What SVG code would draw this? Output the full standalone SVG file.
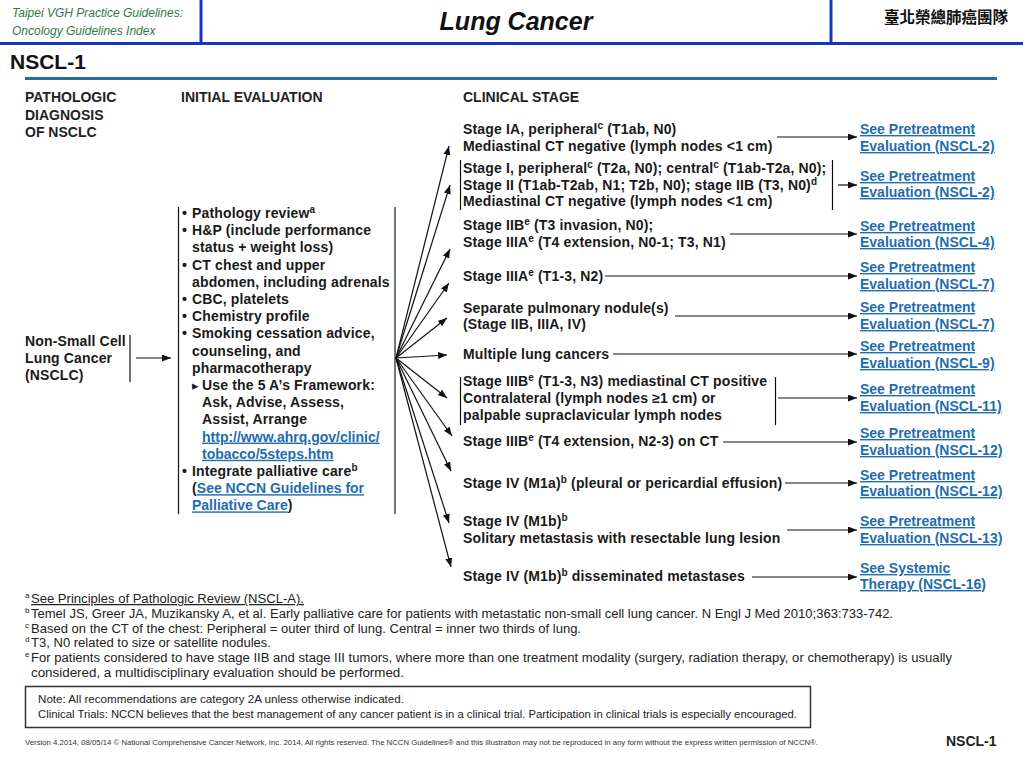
<svg xmlns="http://www.w3.org/2000/svg" width="1023" height="767" viewBox="0 0 1023 767">
<style>
text{font-family:"Liberation Sans",Arial,sans-serif;fill:#1a1a1a}
.b{font-weight:bold;font-size:14px;letter-spacing:0.15px}
.h{font-weight:bold;font-size:14px;fill:#222}
.sup{font-size:10px}
.lk{fill:#1f6cb0;text-decoration:underline;letter-spacing:0}
.fn{font-size:12.5px;fill:#222}
.fs{font-size:8px;fill:#222}
.ln{stroke:#111;stroke-width:1.2;fill:none}
.arr{stroke:#111;stroke-width:1.2;fill:none;marker-end:url(#ah)}
.hb{stroke:#1434c8;stroke-width:3}
</style>
<defs>
<marker id="ah" markerUnits="userSpaceOnUse" markerWidth="9" markerHeight="7" refX="9" refY="3.5" orient="auto">
<path d="M0,0 L9,3.5 L0,7 z" fill="#111"/>
</marker>
</defs>
<rect width="1023" height="767" fill="#fff"/>

<g id="header">
<line class="hb" x1="201" y1="0" x2="201" y2="43"/>
<line class="hb" x1="831" y1="0" x2="831" y2="43"/>
<line class="hb" x1="0" y1="43.5" x2="1023" y2="43.5"/>
<text x="12" y="17" font-style="italic" font-size="12" style="fill:#2f7a46">Taipei VGH Practice Guidelines:</text>
<text x="12" y="35" font-style="italic" font-size="12" style="fill:#2f7a46">Oncology Guidelines Index</text>
<text x="516" y="30" text-anchor="middle" font-weight="bold" font-style="italic" font-size="25" style="fill:#111">Lung Cancer</text>
<text x="946" y="23" text-anchor="middle" font-weight="bold" font-size="15.5" style="font-family:'Noto Sans CJK TC','Noto Sans CJK SC',sans-serif;fill:#111">臺北榮總肺癌團隊</text>
<text x="10" y="69" font-weight="bold" font-size="21" style="fill:#111">NSCL-1</text>
<line x1="25" y1="78.5" x2="997" y2="78.5" stroke="#2b6a99" stroke-width="3"/>
</g>

<g id="column-headers">
<text class="h" x="25" y="102">PATHOLOGIC</text>
<text class="h" x="25" y="120">DIAGNOSIS</text>
<text class="h" x="25" y="137">OF NSCLC</text>
<text class="h" x="181" y="102">INITIAL EVALUATION</text>
<text class="h" x="463" y="102">CLINICAL STAGE</text>
</g>

<g id="node-nsclc">
<text class="b" x="25" y="346">Non-Small Cell</text>
<text class="b" x="25" y="363">Lung Cancer</text>
<text class="b" x="25" y="380">(NSCLC)</text>
<line class="ln" x1="130" y1="335" x2="130" y2="382"/>
</g>

<g id="node-initial-evaluation">
<line class="ln" x1="178.5" y1="207" x2="178.5" y2="514"/>
<line x1="395" y1="207" x2="395" y2="514" stroke="#777" stroke-width="2"/>
<text class="b" x="182" y="218">•</text><text class="b" x="192" y="218">Pathology review<tspan class="sup" dy="-5">a</tspan></text>
<text class="b" x="182" y="235.2">•</text><text class="b" x="192" y="235.2">H&amp;P (include performance</text>
<text class="b" x="192" y="252.4">status + weight loss)</text>
<text class="b" x="182" y="269.6">•</text><text class="b" x="192" y="269.6">CT chest and upper</text>
<text class="b" x="192" y="286.8">abdomen, including adrenals</text>
<text class="b" x="182" y="304">•</text><text class="b" x="192" y="304">CBC, platelets</text>
<text class="b" x="182" y="321.2">•</text><text class="b" x="192" y="321.2">Chemistry profile</text>
<text class="b" x="182" y="338.4">•</text><text class="b" x="192" y="338.4">Smoking cessation advice,</text>
<text class="b" x="192" y="355.6">counseling, and</text>
<text class="b" x="192" y="372.8">pharmacotherapy</text>
<text x="192" y="389.5" font-size="13" style="font-family:'DejaVu Sans',sans-serif">▸</text><text class="b" x="202" y="390">Use the 5 A’s Framework:</text>
<text class="b" x="202" y="407.2">Ask, Advise, Assess,</text>
<text class="b" x="202" y="424.4">Assist, Arrange</text>
<text class="b lk" x="202" y="441.6">http://www.ahrq.gov/clinic/</text>
<text class="b lk" x="202" y="458.8">tobacco/5steps.htm </text>
<text class="b" x="182" y="476">•</text><text class="b" x="192" y="476">Integrate palliative care<tspan class="sup" dy="-5">b</tspan></text>
<text class="b" x="192" y="493.2">(<tspan class="lk">See NCCN Guidelines for</tspan></text>
<text class="b" x="192" y="510.4"><tspan class="lk">Palliative Care</tspan>)</text>
</g>

<g id="node-stage-1">
<text class="b" x="463" y="134">Stage IA, peripheral<tspan class="sup" dy="-5">c</tspan><tspan dy="5"> (T1ab, N0)</tspan></text>
<text class="b" x="463" y="151">Mediastinal CT negative (lymph nodes &lt;1 cm)</text>
</g>
<g id="node-stage-2">
<line class="ln" x1="460.5" y1="160" x2="460.5" y2="210"/>
<line class="ln" x1="832.5" y1="160" x2="832.5" y2="210"/>
<text class="b" x="463" y="173">Stage I, peripheral<tspan class="sup" dy="-5">c</tspan><tspan dy="5"> (T2a, N0); central</tspan><tspan class="sup" dy="-5">c</tspan><tspan dy="5"> (T1ab-T2a, N0);</tspan></text>
<text class="b" x="463" y="190">Stage II (T1ab-T2ab, N1; T2b, N0); stage IIB (T3, N0)<tspan class="sup" dy="-5">d</tspan></text>
<text class="b" x="463" y="206">Mediastinal CT negative (lymph nodes &lt;1 cm)</text>
</g>
<g id="node-stage-3">
<text class="b" x="463" y="230">Stage IIB<tspan class="sup" dy="-5">e</tspan><tspan dy="5"> (T3 invasion, N0);</tspan></text>
<text class="b" x="463" y="247">Stage IIIA<tspan class="sup" dy="-5">e</tspan><tspan dy="5"> (T4 extension, N0-1; T3, N1)</tspan></text>
</g>
<g id="node-stage-4">
<text class="b" x="463" y="281">Stage IIIA<tspan class="sup" dy="-5">e</tspan><tspan dy="5"> (T1-3, N2)</tspan></text>
</g>
<g id="node-stage-5">
<text class="b" x="463" y="313">Separate pulmonary nodule(s)</text>
<text class="b" x="463" y="329">(Stage IIB, IIIA, IV)</text>
</g>
<g id="node-stage-6">
<text class="b" x="463" y="359">Multiple lung cancers</text>
</g>
<g id="node-stage-7">
<line class="ln" x1="460.5" y1="377" x2="460.5" y2="425"/>
<line class="ln" x1="775.5" y1="377" x2="775.5" y2="425"/>
<text class="b" x="463" y="386">Stage IIIB<tspan class="sup" dy="-5">e</tspan><tspan dy="5"> (T1-3, N3) mediastinal CT positive</tspan></text>
<text class="b" x="463" y="403">Contralateral (lymph nodes ≥1 cm) or</text>
<text class="b" x="463" y="420">palpable supraclavicular lymph nodes</text>
</g>
<g id="node-stage-8">
<text class="b" x="463" y="446">Stage IIIB<tspan class="sup" dy="-5">e</tspan><tspan dy="5"> (T4 extension, N2-3) on CT</tspan></text>
</g>
<g id="node-stage-9">
<text class="b" x="463" y="488">Stage IV (M1a)<tspan class="sup" dy="-5">b</tspan><tspan dy="5"> (pleural or pericardial effusion)</tspan></text>
</g>
<g id="node-stage-10">
<text class="b" x="463" y="526">Stage IV (M1b)<tspan class="sup" dy="-5">b</tspan></text>
<text class="b" x="463" y="543">Solitary metastasis with resectable lung lesion</text>
</g>
<g id="node-stage-11">
<text class="b" x="463" y="581">Stage IV (M1b)<tspan class="sup" dy="-5">b</tspan><tspan dy="5"> disseminated metastases</tspan></text>
</g>

<g id="node-link-1"><text class="b lk" x="860" y="134">See Pretreatment</text><text class="b lk" x="860" y="151">Evaluation (NSCL-2)</text></g>
<g id="node-link-2"><text class="b lk" x="860" y="181">See Pretreatment</text><text class="b lk" x="860" y="197">Evaluation (NSCL-2)</text></g>
<g id="node-link-3"><text class="b lk" x="860" y="231">See Pretreatment</text><text class="b lk" x="860" y="247">Evaluation (NSCL-4)</text></g>
<g id="node-link-4"><text class="b lk" x="860" y="272">See Pretreatment</text><text class="b lk" x="860" y="289">Evaluation (NSCL-7)</text></g>
<g id="node-link-5"><text class="b lk" x="860" y="312">See Pretreatment</text><text class="b lk" x="860" y="329">Evaluation (NSCL-7)</text></g>
<g id="node-link-6"><text class="b lk" x="860" y="351">See Pretreatment</text><text class="b lk" x="860" y="368">Evaluation (NSCL-9)</text></g>
<g id="node-link-7"><text class="b lk" x="860" y="394">See Pretreatment</text><text class="b lk" x="860" y="411">Evaluation (NSCL-11)</text></g>
<g id="node-link-8"><text class="b lk" x="860" y="438">See Pretreatment</text><text class="b lk" x="860" y="455">Evaluation (NSCL-12)</text></g>
<g id="node-link-9"><text class="b lk" x="860" y="480">See Pretreatment</text><text class="b lk" x="860" y="496">Evaluation (NSCL-12)</text></g>
<g id="node-link-10"><text class="b lk" x="860" y="526">See Pretreatment</text><text class="b lk" x="860" y="543">Evaluation (NSCL-13)</text></g>
<g id="node-link-11"><text class="b lk" x="860" y="573">See Systemic</text><text class="b lk" x="860" y="589">Therapy (NSCL-16)</text></g>

<g id="connectors">
<line class="arr" x1="136" y1="358" x2="171" y2="358"/>
<line class="arr" x1="396" y1="358" x2="449" y2="146"/>
<line class="arr" x1="396" y1="358" x2="450" y2="185"/>
<line class="arr" x1="396" y1="358" x2="450" y2="249"/>
<line class="arr" x1="396" y1="358" x2="449" y2="283"/>
<line class="arr" x1="396" y1="358" x2="447" y2="318"/>
<line class="arr" x1="396" y1="358" x2="447" y2="355"/>
<line class="arr" x1="396" y1="358" x2="447" y2="398"/>
<line class="arr" x1="396" y1="358" x2="452" y2="436"/>
<line class="arr" x1="396" y1="358" x2="451" y2="471"/>
<line class="arr" x1="396" y1="358" x2="449" y2="523"/>
<line class="arr" x1="396" y1="358" x2="451" y2="567"/>
<line class="arr" x1="777" y1="137" x2="857" y2="137"/>
<line class="arr" x1="838" y1="185" x2="857" y2="185"/>
<line class="arr" x1="730" y1="234" x2="857" y2="234"/>
<line class="arr" x1="605" y1="276" x2="857" y2="276"/>
<line class="arr" x1="675" y1="316" x2="857" y2="316"/>
<line class="arr" x1="613" y1="354" x2="857" y2="354"/>
<line class="arr" x1="778" y1="398" x2="857" y2="398"/>
<line class="arr" x1="723" y1="442" x2="857" y2="442"/>
<line class="arr" x1="785" y1="483" x2="857" y2="483"/>
<line class="arr" x1="787" y1="530" x2="857" y2="530"/>
<line class="arr" x1="752" y1="577" x2="857" y2="577"/>
</g>

<g id="footnotes">
<text class="fs" x="25" y="598">a</text><text class="fn lk" x="31" y="603" textLength="273" lengthAdjust="spacingAndGlyphs">See Principles of Pathologic Review (NSCL-A).</text>
<text class="fs" x="25" y="613">b</text><text class="fn" x="31" y="618" textLength="862" lengthAdjust="spacingAndGlyphs">Temel JS, Greer JA, Muzikansky A, et al. Early palliative care for patients with metastatic non-small cell lung cancer. N Engl J Med 2010;363:733-742.</text>
<text class="fs" x="25" y="628">c</text><text class="fn" x="31" y="633" textLength="550" lengthAdjust="spacingAndGlyphs">Based on the CT of the chest: Peripheral = outer third of lung. Central = inner two thirds of lung.</text>
<text class="fs" x="25" y="642">d</text><text class="fn" x="31" y="647" textLength="240" lengthAdjust="spacingAndGlyphs">T3, N0 related to size or satellite nodules.</text>
<text class="fs" x="25" y="657">e</text><text class="fn" x="31" y="662" textLength="921" lengthAdjust="spacingAndGlyphs">For patients considered to have stage IIB and stage III tumors, where more than one treatment modality (surgery, radiation therapy, or chemotherapy) is usually</text>
<text class="fn" x="31" y="677" textLength="373" lengthAdjust="spacingAndGlyphs">considered, a multidisciplinary evaluation should be performed.</text>
</g>

<g id="note">
<rect x="25.5" y="686.5" width="785" height="41" fill="none" stroke="#333" stroke-width="1.5"/>
<text x="38" y="703" font-size="11" textLength="366" lengthAdjust="spacingAndGlyphs" style="fill:#222">Note:  All recommendations are category 2A unless otherwise indicated.</text>
<text x="38" y="718" font-size="11" textLength="759" lengthAdjust="spacingAndGlyphs" style="fill:#222">Clinical Trials: NCCN believes that the best management of any cancer patient is in a clinical trial.  Participation in clinical trials is especially encouraged.</text>
</g>

<g id="footer">
<text x="25" y="745" font-size="7.5" textLength="793" lengthAdjust="spacingAndGlyphs" style="fill:#333">Version 4.2014, 08/05/14 © National Comprehensive Cancer Network, Inc. 2014, All rights reserved. The NCCN Guidelines® and this illustration may not be reproduced in any form without the express written permission of NCCN®.</text>
<text x="946" y="746" font-weight="bold" font-size="14" style="fill:#222">NSCL-1</text>
</g>
</svg>
